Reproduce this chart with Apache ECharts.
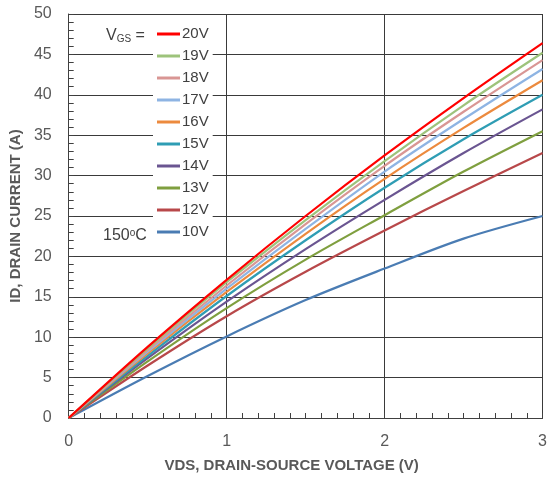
<!DOCTYPE html>
<html>
<head>
<meta charset="utf-8">
<script src="https://cdn.jsdelivr.net/npm/echarts@6/dist/echarts.min.js"></script>
<style>html,body{margin:0;padding:0;background:#fff}#c{width:550px;height:479px}</style>
</head>
<body>
<div id="c"></div>
<script>
var vds = [0, 0.5, 1, 1.5, 2, 2.5, 3];
var v20 = [0, 8.8, 17.1, 25.0, 32.5, 39.6, 46.4];
var v19 = [0, 8.6, 16.8, 24.5, 31.8, 38.7, 45.2];
var v18 = [0, 8.4, 16.4, 24.0, 31.2, 37.9, 44.3];
var v17 = [0, 8.2, 16.0, 23.4, 30.5, 37.0, 43.2];
var v16 = [0, 8.0, 15.6, 22.8, 29.6, 35.9, 41.8];
var v15 = [0, 7.7, 15.1, 22.0, 28.5, 34.5, 40.0];
var v14 = [0, 7.4, 14.4, 20.9, 27.0, 32.8, 38.2];
var v13 = [0, 7.0, 13.6, 19.6, 25.1, 30.5, 35.5];
var v12 = [0, 6.5, 12.6, 18.1, 23.2, 28.1, 32.8];
var v10 = [0, 5.2, 10.1, 14.6, 18.5, 22.2, 25.0];
var seriesNames = ['20V','19V','18V','17V','16V','15V','14V','13V','12V','10V'];
var seriesValues = [v20,v19,v18,v17,v16,v15,v14,v13,v12,v10];
var colors = ['#ff0000','#9dc37b','#d99694','#8eb4e3','#ec8a3e','#2f9db4','#6a5591','#7f9f3f','#b8484a','#4a7cb3'];
var yTicks = [0,5,10,15,20,25,30,35,40,45,50];
var xTicks = [0,1,2,3];

var FONT = 'Liberation Sans';
var GRAY = '#595959';
var series = seriesNames.map(function(n,i){
  return {
    name: n, type: 'line', smooth: 0.3, symbol: 'none', z: 10 - i,
    lineStyle: {color: colors[i], width: 2.2},
    itemStyle: {color: colors[i]},
    data: vds.map(function(x,j){ return [x, seriesValues[i][j]]; })
  };
});

var chart = echarts.init(document.getElementById('c'), null, {renderer:'canvas'});
chart.setOption({
  animation: false,
  backgroundColor: '#fff',
  grid: {left: 67, right: 5, top: 14, bottom: 61, containLabel: false},
  xAxis: {
    type: 'value', min: 0, max: 3, interval: 1,
    name: 'VDS, DRAIN-SOURCE VOLTAGE (V)', nameLocation: 'middle', nameGap: 40,
    nameTextStyle: {fontFamily: FONT, fontSize: 15, fontWeight: 'bold', color: GRAY, padding: [0, 28, 0, 0]},
    axisLine: {show: true, lineStyle: {color: '#404040', width: 1}},
    axisTick: {show: true, inside: true, length: 5, lineStyle: {color: '#404040'}},
    minorTick: {show: true, splitNumber: 10, length: 5, lineStyle: {color: '#404040'}},
    axisLabel: {fontFamily: FONT, fontSize: 16, color: GRAY, margin: 16,
      formatter: function(v){ return xTicks.indexOf(v) >= 0 ? String(v) : ''; }},
    splitLine: {show: true, lineStyle: {color: '#3a3a3a', width: 1}}
  },
  yAxis: {
    type: 'value', min: 0, max: 50, interval: 5,
    name: 'ID, DRAIN CURRENT (A)', nameLocation: 'middle', nameGap: 42,
    nameTextStyle: {fontFamily: FONT, fontSize: 15, fontWeight: 'bold', color: GRAY},
    axisLine: {show: true, lineStyle: {color: '#404040', width: 1}},
    axisTick: {show: true, inside: true, length: 5, lineStyle: {color: '#404040'}},
    minorTick: {show: true, splitNumber: 5, length: 5, lineStyle: {color: '#404040'}},
    axisLabel: {fontFamily: FONT, fontSize: 16, color: GRAY, margin: 17,
      formatter: function(v){ return yTicks.indexOf(v) >= 0 ? String(v) : ''; }},
    splitLine: {show: true, lineStyle: {color: '#3a3a3a', width: 1}}
  },
  legend: {
    show: true, orient: 'vertical', left: 153, top: 24,
    data: seriesNames,
    icon: 'rect', itemWidth: 23, itemHeight: 3, itemGap: 6,
    backgroundColor: '#fff', padding: [2, 4, 2, 4],
    textStyle: {fontFamily: FONT, fontSize: 15, color: '#404040', lineHeight: 16, padding: [0,0,0,-3]}
  },
  graphic: [
    {type: 'text', left: 106, top: 28, z: 100, style: {
      text: '{a|V}{b|GS}{a| =}', fill: '#404040',
      rich: {a: {fontFamily: FONT, fontSize: 16, fill: '#404040'},
             b: {fontFamily: FONT, fontSize: 10, fill: '#404040', verticalAlign: 'bottom', padding: [6,0,0,0]}}
    }},
    {type: 'text', left: 103, top: 228, z: 100, style: {
      text: '{a|150}{b|o}{a|C}', fill: '#404040',
      rich: {a: {fontFamily: FONT, fontSize: 16, fill: '#404040'},
             b: {fontFamily: FONT, fontSize: 10, fill: '#404040', verticalAlign: 'top', padding: [0,0,6,0]}}
    }}
  ],
  series: series
});
</script>
</body>
</html>
